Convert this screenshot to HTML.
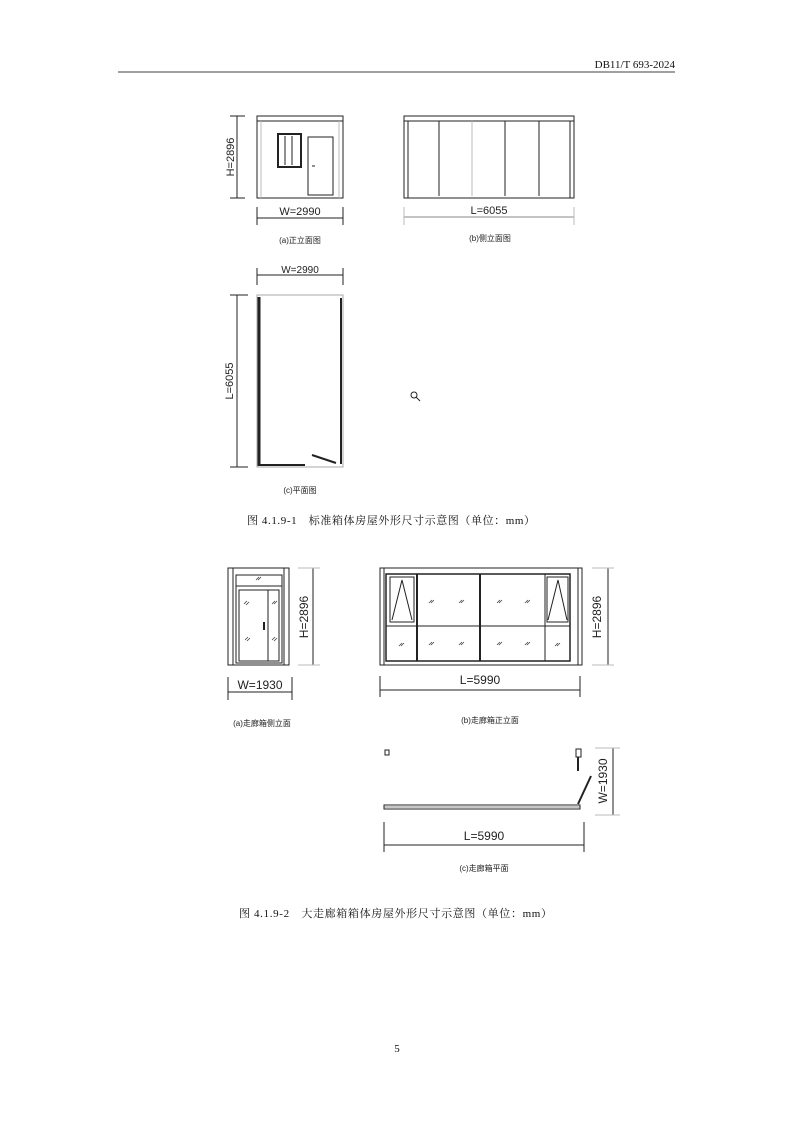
<!DOCTYPE html>
<html><head><meta charset="utf-8"><style>
html,body{margin:0;padding:0;background:#fff}
svg{display:block}
.t{font-family:"Liberation Serif","Noto Serif CJK SC",serif;fill:#111}
.d{font-family:"Liberation Sans","Noto Sans CJK SC",sans-serif;fill:#222}
</style></head><body>
<svg width="793" height="1123" viewBox="0 0 793 1123" xmlns="http://www.w3.org/2000/svg">
<text class="t" x="675" y="68" font-size="11" text-anchor="end">DB11/T 693-2024</text>
<line x1="118" y1="72" x2="675" y2="72" stroke="#000" stroke-width="0.8"/>

<g stroke="#222" fill="none" stroke-width="1">
<!-- Fig1a -->
<rect x="257" y="116" width="86" height="82"/>
<line x1="257" y1="121" x2="343" y2="121"/>
<line x1="261" y1="121" x2="261" y2="198" stroke="#bbb"/>
<line x1="339" y1="121" x2="339" y2="198" stroke="#bbb"/>
<rect x="278" y="134" width="23" height="33" stroke-width="2"/>
<line x1="285" y1="136" x2="285" y2="165"/><line x1="292" y1="136" x2="292" y2="165"/>
<rect x="308" y="137" width="25" height="58"/>
<line x1="312" y1="166" x2="315" y2="166"/>
<line x1="237" y1="116" x2="237" y2="198"/><line x1="230" y1="116" x2="245" y2="116"/><line x1="230" y1="198" x2="245" y2="198"/>
<line x1="257" y1="218" x2="343" y2="218"/><line x1="257" y1="207" x2="257" y2="225"/><line x1="343" y1="207" x2="343" y2="225"/>
<!-- Fig1b -->
<rect x="404" y="116" width="170" height="82"/>
<line x1="404" y1="121" x2="574" y2="121"/>
<line x1="408" y1="121" x2="408" y2="198"/><line x1="570" y1="121" x2="570" y2="198"/>
<line x1="439" y1="121" x2="439" y2="196"/><line x1="472" y1="121" x2="472" y2="196" stroke="#bbb"/>
<line x1="505" y1="121" x2="505" y2="196"/><line x1="539" y1="121" x2="539" y2="196"/>
<line x1="404" y1="217" x2="574" y2="217" stroke="#888"/><line x1="404" y1="207" x2="404" y2="225" stroke="#bbb"/><line x1="574" y1="207" x2="574" y2="225" stroke="#bbb"/>
<!-- Fig1c -->
<rect x="257" y="295" width="86" height="172" stroke="#aaa"/>
<line x1="259" y1="297" x2="259" y2="466" stroke-width="3"/>
<line x1="341" y1="298" x2="341" y2="464" stroke-width="2"/>
<line x1="259" y1="465" x2="305" y2="465" stroke-width="2"/>
<line x1="312" y1="455" x2="336" y2="463" stroke-width="2"/>
<line x1="257" y1="275" x2="343" y2="275"/><line x1="257" y1="268" x2="257" y2="285"/><line x1="343" y1="268" x2="343" y2="285"/>
<line x1="237" y1="295" x2="237" y2="467"/><line x1="230" y1="295" x2="248" y2="295"/><line x1="230" y1="467" x2="248" y2="467"/>
<circle cx="414" cy="395" r="3"/><line x1="416" y1="397" x2="420" y2="401"/>

<!-- Fig2a -->
<rect x="228" y="568" width="61" height="97"/>
<line x1="233" y1="568" x2="233" y2="665"/><line x1="284" y1="568" x2="284" y2="665"/>
<rect x="236" y="575" width="46" height="88"/>
<line x1="236" y1="586" x2="282" y2="586"/>
<rect x="239" y="590" width="40" height="71"/>
<line x1="268" y1="590" x2="268" y2="661"/>
<line x1="264" y1="622" x2="264" y2="630" stroke-width="2"/>
<line x1="313" y1="568" x2="313" y2="665"/><line x1="298" y1="568" x2="320" y2="568" stroke="#bbb"/><line x1="298" y1="665" x2="320" y2="665" stroke="#bbb"/>
<line x1="228" y1="692" x2="292" y2="692"/><line x1="228" y1="677" x2="228" y2="700"/><line x1="292" y1="677" x2="292" y2="700"/>
<!-- Fig2b -->
<rect x="380" y="568" width="202" height="97"/>
<line x1="384" y1="568" x2="384" y2="665"/><line x1="578" y1="568" x2="578" y2="665"/>
<rect x="386" y="574" width="184" height="87" stroke-width="1.5"/>
<line x1="386" y1="626" x2="570" y2="626"/>
<line x1="417" y1="574" x2="417" y2="661" stroke-width="2"/>
<line x1="480" y1="574" x2="480" y2="661" stroke-width="2"/>
<line x1="545" y1="574" x2="545" y2="661"/>
<rect x="390" y="577" width="24" height="45"/>
<polyline points="392,620 402,580 412,620"/>
<rect x="547" y="577" width="21" height="45"/>
<polyline points="548,620 558,580 567,620"/>
<line x1="608" y1="568" x2="608" y2="665"/><line x1="592" y1="568" x2="614" y2="568" stroke="#bbb"/><line x1="592" y1="665" x2="614" y2="665" stroke="#bbb"/>
<line x1="380" y1="690" x2="580" y2="690"/><line x1="380" y1="676" x2="380" y2="697"/><line x1="580" y1="676" x2="580" y2="697"/>
<!-- Fig2c -->
<rect x="384" y="805" width="196" height="4"/>
<line x1="384" y1="807" x2="580" y2="807" stroke-width="0.6"/>
<rect x="385" y="750" width="4" height="5"/>
<rect x="576" y="749" width="5" height="8"/>
<line x1="578" y1="757" x2="578" y2="771" stroke-width="2"/>
<line x1="578" y1="804" x2="591" y2="776" stroke-width="2"/>
<line x1="613" y1="748" x2="613" y2="815"/><line x1="595" y1="748" x2="620" y2="748" stroke="#bbb"/><line x1="595" y1="815" x2="620" y2="815" stroke="#bbb"/>
<line x1="384" y1="845" x2="584" y2="845"/><line x1="384" y1="822" x2="384" y2="852"/><line x1="584" y1="822" x2="584" y2="852"/>
</g>
<g stroke="#444" stroke-width="0.8">
<path d="M256 580l3-3M258 580l3-3M245 640l3-3M247 641l3-3M272 604l3-3M274 604l3-3M244 604l3-3M246 605l3-3M272 640l3-3M274 641l3-3"/>
<path d="M429 603l3-3M431 603l3-3M459 603l3-3M461 603l3-3M497 603l3-3M499 603l3-3M525 603l3-3M527 603l3-3M399 646l3-3M401 646l3-3M429 645l3-3M431 645l3-3M459 645l3-3M461 645l3-3M497 645l3-3M499 645l3-3M525 645l3-3M527 645l3-3M555 646l3-3M557 646l3-3"/>
</g>

<g class="d" font-size="11">
<text transform="translate(234,157) rotate(-90)" text-anchor="middle">H=2896</text>
<text x="300" y="215" text-anchor="middle">W=2990</text>
<text x="489" y="214" text-anchor="middle">L=6055</text>
<text x="300" y="273" text-anchor="middle" font-size="10">W=2990</text>
<text transform="translate(233,381) rotate(-90)" text-anchor="middle">L=6055</text>
<text transform="translate(308,617) rotate(-90)" text-anchor="middle" font-size="12">H=2896</text>
<text x="260" y="689" text-anchor="middle" font-size="12">W=1930</text>
<text transform="translate(601,617) rotate(-90)" text-anchor="middle" font-size="12">H=2896</text>
<text x="480" y="684" text-anchor="middle" font-size="12">L=5990</text>
<text transform="translate(607,781) rotate(-90)" text-anchor="middle" font-size="12">W=1930</text>
<text x="484" y="840" text-anchor="middle" font-size="12">L=5990</text>
</g>
<g class="d" font-size="8">
<text x="300" y="243" text-anchor="middle">(a)正立面图</text>
<text x="490" y="241" text-anchor="middle">(b)侧立面图</text>
<text x="300" y="493" text-anchor="middle">(c)平面图</text>
<text x="262" y="726" text-anchor="middle">(a)走廊箱侧立面</text>
<text x="490" y="723" text-anchor="middle">(b)走廊箱正立面</text>
<text x="484" y="871" text-anchor="middle">(c)走廊箱平面</text>
</g>
<text class="t" x="247" y="524" font-size="11" textLength="288" lengthAdjust="spacing">图 4.1.9-1　标准箱体房屋外形尺寸示意图（单位：mm）</text>
<text class="t" x="239" y="917" font-size="11" textLength="313" lengthAdjust="spacing">图 4.1.9-2　大走廊箱箱体房屋外形尺寸示意图（单位：mm）</text>
<text class="t" x="397" y="1052" font-size="11" text-anchor="middle">5</text>
</svg>
</body></html>
